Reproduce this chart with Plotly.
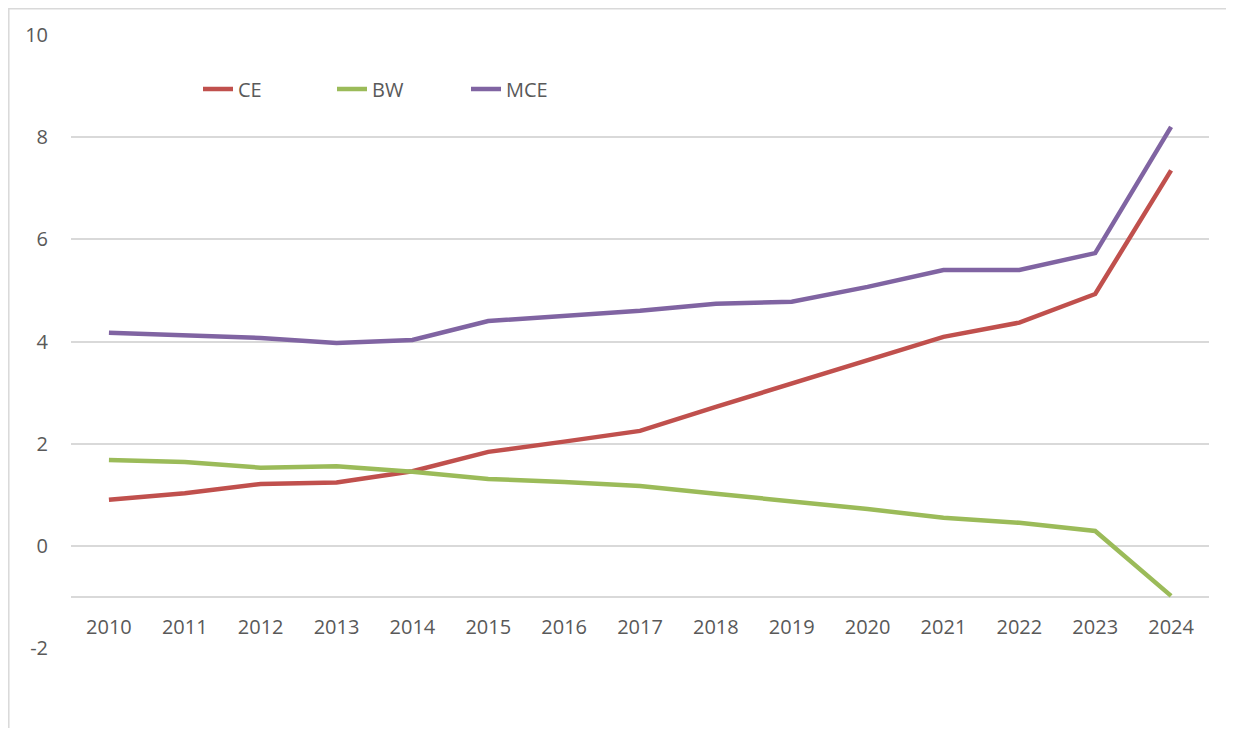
import plotly.graph_objects as go

years = list(range(2010, 2025))
ce = [0.90, 1.03, 1.21, 1.24, 1.46, 1.84, 2.04, 2.25, 2.72, 3.17, 3.62, 4.09, 4.37, 4.93, 7.35]
bw = [1.68, 1.64, 1.53, 1.56, 1.45, 1.31, 1.25, 1.17, 1.02, 0.88, 0.72, 0.55, 0.45, 0.29, -0.98]
mce = [4.17, 4.11, 4.07, 3.97, 4.03, 4.40, 4.50, 4.60, 4.74, 4.78, 5.07, 5.40, 5.40, 5.73, 8.20]

series = [("CE", ce, "#C0504D"), ("BW", bw, "#9BBB59"), ("MCE", mce, "#8064A2")]

FONT = "Open Sans"
GRAY = "#595959"

fig = go.Figure()
for name, vals, color in series:
    fig.add_trace(go.Scatter(x=years, y=vals, name=name, mode="lines",
                             line=dict(color=color, width=4.5)))

yt = [-2, -1, 0, 2, 4, 6, 8, 10]
ytext = ["-2", "", "0", "2", "4", "6", "8", "10"]

W, H = 1218, 720
L, T, PW, PH = 63, 27, 1138, 613

fig.update_layout(
    width=W, height=H,
    margin=dict(l=L, r=W - L - PW, t=T, b=H - T - PH),
    paper_bgcolor="white", plot_bgcolor="white",
    font=dict(family=FONT, size=20, color=GRAY),
    showlegend=True,
    legend=dict(orientation="h", x=0.1116, y=0.912, xanchor="left", yanchor="middle",
                font=dict(family=FONT, size=20, color=GRAY),
                entrywidth=89, bgcolor="rgba(0,0,0,0)"),
    xaxis=dict(range=[2009.5, 2024.5], tickmode="array", tickvals=years,
               ticktext=[str(y) for y in years], showgrid=False, zeroline=False,
               showline=False, anchor="free", position=1/12, ticks="",
               ticklabelstandoff=16, tickfont=dict(family=FONT, size=20, color=GRAY)),
    yaxis=dict(range=[-2, 10], tickmode="array", tickvals=yt, ticktext=ytext,
               showgrid=True, gridcolor="#D9D9D9", gridwidth=1.5, zeroline=False,
               showline=False, ticks="", ticklabelstandoff=22,
               tickfont=dict(family=FONT, size=20, color=GRAY)),
)

# chart area border: only top and left edges are visible in the reference
x0 = (0.8 - L) / PW
x1 = (W - L) / PW
y0 = (T + PH - H) / PH
y1 = (T + PH - 0.8) / PH
fig.add_shape(type="path", xref="paper", yref="paper",
              path=f"M {x0},{y0} L {x0},{y1} L {x1},{y1}",
              line=dict(color="#D9D9D9", width=1.5), layer="below")

fig.write_html("out.html")
